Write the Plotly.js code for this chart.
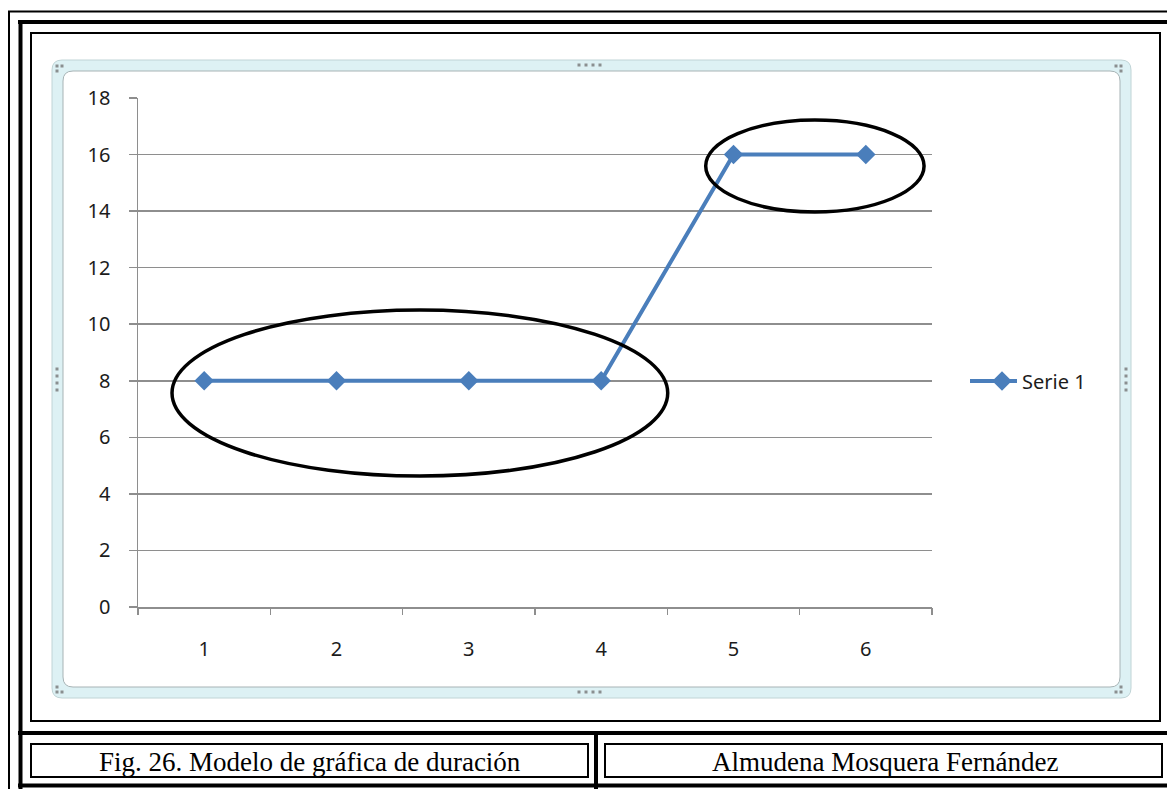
<!DOCTYPE html>
<html>
<head>
<meta charset="utf-8">
<script src="https://cdn.plot.ly/plotly-3.0.1.min.js"></script>
<style>
  html, body { margin: 0; padding: 0; background: #ffffff; }
  #chart { width: 1167px; height: 789px; }
</style>
</head>
<body>
<div id="chart"></div>
<script>
// Duration chart: one series over six periods
const categories = [1, 2, 3, 4, 5, 6];
const categoryLabels = ['1', '2', '3', '4', '5', '6'];
const serie1 = [8, 8, 8, 8, 16, 16];
const serieName = 'Serie 1';
const yTicks = [0, 2, 4, 6, 8, 10, 12, 14, 16, 18];
const captionLeft = 'Fig. 26. Modelo de gráfica de duración';
const captionRight = 'Almudena Mosquera Fernández';

// Page geometry (pixels) and plot box
const PAGE_W = 1167, PAGE_H = 789;
const PL = 138, PR = 932, PT = 98, PB = 607;
const px = x => (x - PL) / (PR - PL);
const py = y => (PB - y) / (PB - PT);
const SERIES_COLOR = '#4a7ebb';

function line(x0, y0, x1, y1, w, color) {
  return { type: 'line', xref: 'paper', yref: 'paper',
    x0: px(x0), y0: py(y0), x1: px(x1), y1: py(y1),
    line: { color: color || '#000', width: w } };
}
function box(x0, y0, x1, y1, w) {
  return { type: 'rect', xref: 'paper', yref: 'paper',
    x0: px(x0), y0: py(y0), x1: px(x1), y1: py(y1),
    line: { color: '#000', width: w }, fillcolor: 'rgba(0,0,0,0)' };
}
function roundRect(x0, y0, x1, y1, r, fill, stroke, layer) {
  const P = (x, y) => px(x) + ',' + py(y);
  const d = 'M' + P(x0 + r, y0) + ' L' + P(x1 - r, y0) + ' Q' + P(x1, y0) + ' ' + P(x1, y0 + r) +
    ' L' + P(x1, y1 - r) + ' Q' + P(x1, y1) + ' ' + P(x1 - r, y1) +
    ' L' + P(x0 + r, y1) + ' Q' + P(x0, y1) + ' ' + P(x0, y1 - r) +
    ' L' + P(x0, y0 + r) + ' Q' + P(x0, y0) + ' ' + P(x0 + r, y0) + ' Z';
  return { type: 'path', xref: 'paper', yref: 'paper', path: d, layer: layer || 'below',
    fillcolor: fill, line: { color: stroke, width: 1 } };
}
function dot(x, y) {
  return { type: 'rect', xref: 'paper', yref: 'paper', layer: 'below',
    x0: px(x - 1.5), y0: py(y - 1.5), x1: px(x + 1.5), y1: py(y + 1.5),
    fillcolor: '#8a8f90', line: { width: 0 } };
}

const shapes = [];
// chart-area frame
shapes.push(roundRect(52, 60, 1131, 698, 10, '#ddf1f4', '#c0d4d6'));
shapes.push(roundRect(63, 71, 1120, 687, 10, '#ffffff', '#a7b3b5'));
// resize handles
[[57, 66], [62, 66], [57, 71],
 [1116, 66], [1121, 66], [1121, 71],
 [57, 687], [57, 692], [62, 692],
 [1121, 687], [1116, 692], [1121, 692]].forEach(p => shapes.push(dot(p[0], p[1])));
[579, 586, 593, 600].forEach(x => { shapes.push(dot(x, 65)); shapes.push(dot(x, 692)); });
[369, 376, 383, 390].forEach(y => { shapes.push(dot(57, y)); shapes.push(dot(1126, y)); });

// longer legend key stroke
shapes.push(line(970, 381, 992, 381, 4, SERIES_COLOR));

// highlight ellipses around the two plateaus (data coordinates)
shapes.push({ type: 'circle', xref: 'x', yref: 'y', x0: 0.757, x1: 4.503, y0: 4.63, y1: 10.5,
  line: { color: '#000', width: 3.5 } });
shapes.push({ type: 'circle', xref: 'x', yref: 'y', x0: 4.79, x1: 6.44, y0: 13.97, y1: 17.22,
  line: { color: '#000', width: 3.5 } });

// page borders and caption table
shapes.push(line(8, 11.5, 1167, 11.5, 2));
shapes.push(line(9, 11, 9, 789, 2));
shapes.push(line(18, 22, 1167, 22, 4));
shapes.push(line(20.5, 20, 20.5, 789, 4));
shapes.push(box(31, 33, 1160, 721, 2));
shapes.push(line(18, 733, 1167, 733, 4));
shapes.push(box(31, 744, 588, 777, 2));
shapes.push(line(596, 733, 596, 789, 4));
shapes.push(box(605, 744, 1162, 777, 2));
shapes.push(line(18, 785.5, 1167, 785.5, 4));

const captionFont = { family: 'Liberation Serif', size: 27, color: '#000' };
const annotations = [
  { xref: 'paper', yref: 'paper', x: px(309.5), y: py(762), text: captionLeft, showarrow: false,
    xanchor: 'center', yanchor: 'middle', font: captionFont },
  { xref: 'paper', yref: 'paper', x: px(884.5), y: py(762), text: captionRight, showarrow: false,
    xanchor: 'center', yanchor: 'middle', font: captionFont }
];

const boundaries = categories.map(c => c - 0.5).concat([categories[categories.length - 1] + 0.5]);
const tickFont = { family: 'Noto Sans', size: 20, color: '#1c1c1c' };

const trace = {
  type: 'scatter', mode: 'lines+markers', name: serieName,
  x: categories, y: serie1,
  line: { color: SERIES_COLOR, width: 4 },
  marker: { symbol: 'diamond', size: 15, color: SERIES_COLOR }
};

const layout = {
  width: PAGE_W, height: PAGE_H,
  margin: { l: PL, r: PAGE_W - PR, t: PT, b: PAGE_H - PB },
  paper_bgcolor: '#ffffff', plot_bgcolor: 'rgba(0,0,0,0)',
  showlegend: true,
  legend: { x: px(982), y: py(381), xanchor: 'left', yanchor: 'middle',
    bgcolor: 'rgba(0,0,0,0)', font: tickFont },
  xaxis: { range: [0.5, 6.5], tickmode: 'array', tickvals: categories, ticktext: categoryLabels,
    ticks: '', showgrid: false, zeroline: false, showline: true, linecolor: '#8e8e8e', linewidth: 1.5,
    tickfont: tickFont, ticklabelstandoff: 23, fixedrange: true },
  xaxis2: { overlaying: 'x', matches: 'x', range: [0.5, 6.5], tickmode: 'array', tickvals: boundaries,
    ticks: 'outside', ticklen: 7, tickwidth: 1.5, tickcolor: '#8e8e8e', showticklabels: false,
    showgrid: false, zeroline: false, showline: false },
  yaxis: { range: [0, 18], tickmode: 'array', tickvals: yTicks, ticks: 'outside', ticklen: 8,
    tickwidth: 1.5, tickcolor: '#8e8e8e', showgrid: true, gridcolor: '#8e8e8e', gridwidth: 1.5,
    zeroline: false, showline: true, linecolor: '#8e8e8e', linewidth: 1.5,
    tickfont: tickFont, ticklabelstandoff: 14, fixedrange: true },
  shapes: shapes,
  annotations: annotations
};

// invisible trace to attach the boundary tick axis
const tickHolder = { type: 'scatter', x: [], y: [], xaxis: 'x2', showlegend: false, hoverinfo: 'skip' };

Plotly.newPlot('chart', [trace, tickHolder], layout, { staticPlot: true });
</script>
</body>
</html>
